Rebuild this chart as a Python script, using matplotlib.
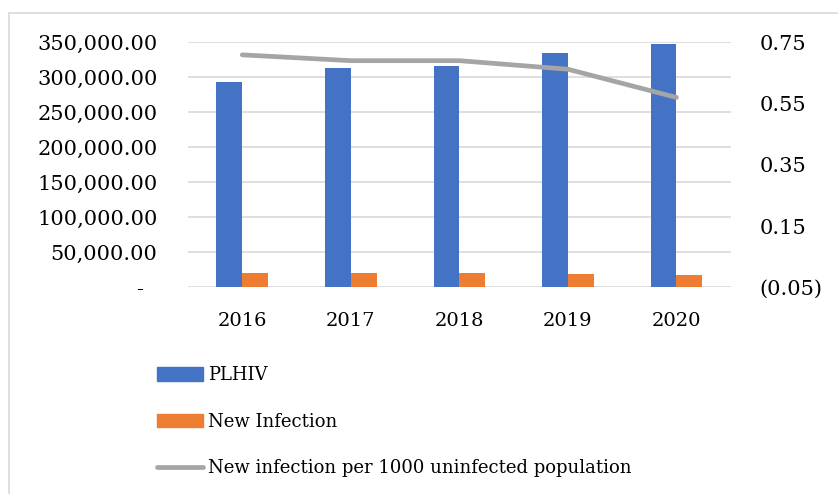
import matplotlib.pyplot as plt
import matplotlib.ticker as mticker
from matplotlib.patches import Rectangle
from matplotlib.lines import Line2D
import numpy as np

years = ['2016', '2017', '2018', '2019', '2020']
plhiv = [293300, 312900, 316000, 334000, 347600]
new_infection = [20000, 20000, 20000, 19000, 17000]
rate_per_1000 = [0.709, 0.690, 0.690, 0.662, 0.570]

blue = '#4472C4'
orange = '#ED7D31'
gray = '#A5A5A5'
font = 'DejaVu Serif'
fs = 15
legend_fs = 13

plt.rcParams['font.family'] = font

fig = plt.figure(figsize=(8.38, 4.94), dpi=100)
# light frame round the chart area
fig.patches.append(Rectangle((9 / 838, -0.1), 1.2, 1 - 13 / 494 + 0.1,
                             transform=fig.transFigure, fill=False,
                             edgecolor='#d9d9d9', linewidth=1.2))

ax = fig.add_axes([188 / 838, 1 - 287.3 / 494, (730.7 - 188) / 838, 245 / 494])
x = np.arange(len(years))
w = 0.238
ax.bar(x - w / 2, plhiv, w, color=blue, label='PLHIV', zorder=2)
ax.bar(x + w / 2, new_infection, w, color=orange, label='New Infection', zorder=2)
ax.set_xlim(-0.5, 4.5)
ax.set_ylim(0, 350000)
ax.set_yticks(np.arange(0, 350001, 50000))
# accounting style: zero shown as a dash, set in from the right
ax.yaxis.set_major_formatter(mticker.FuncFormatter(
    lambda v, p: '-  ' if v == 0 else f'{v:,.2f}'))
ax.grid(axis='y', color='#d9d9d9', linewidth=1.2, zorder=0)
ax.set_axisbelow(True)
for s in ax.spines.values():
    s.set_visible(False)
ax.set_xticks(x)
ax.set_xticklabels(years, fontsize=14)
ax.tick_params(axis='both', length=0)
ax.tick_params(axis='y', pad=22, labelsize=fs)
ax.tick_params(axis='x', pad=18)

ax2 = ax.twinx()
ax2.plot(x, rate_per_1000, color=gray, linewidth=3.4, solid_capstyle='round',
         solid_joinstyle='round', zorder=3)
ax2.set_ylim(-0.05, 0.75)
ax2.set_yticks(np.arange(-0.05, 0.76, 0.2))
ax2.yaxis.set_major_formatter(mticker.FuncFormatter(
    lambda v, p: f'({abs(v):.2f})' if v < 0 else f'{v:.2f}'))
for s in ax2.spines.values():
    s.set_visible(False)
ax2.tick_params(axis='y', length=0, labelsize=fs, pad=21)

handles = [
    Rectangle((0, 0), 1, 1, color=blue),
    Rectangle((0, 0), 1, 1, color=orange),
    Line2D([0], [0], color=gray, linewidth=3.4, solid_capstyle='round'),
]
labels = ['PLHIV', 'New Infection', 'New infection per 1000 uninfected population']
fig.legend(handles, labels, loc='upper left', bbox_to_anchor=(151.5 / 838, 1 - 361 / 494),
           frameon=False, fontsize=legend_fs, handlelength=2.55, handleheight=0.78,
           handletextpad=0.3, labelspacing=1.57, borderaxespad=0, borderpad=0.3)

fig.savefig('out.png', dpi=100)
